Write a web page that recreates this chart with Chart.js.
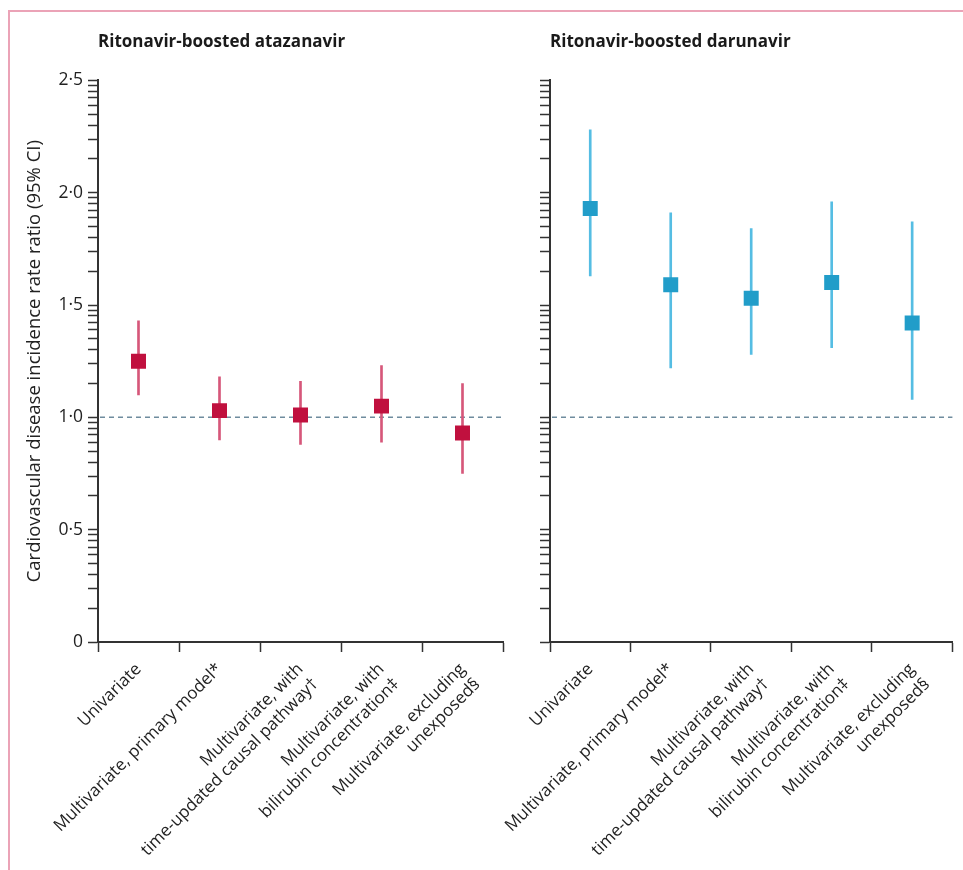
<!DOCTYPE html>
<html>
<head>
<meta charset="utf-8">
<script src="https://cdn.jsdelivr.net/npm/chart.js@4"></script>
<style>
  body { margin: 0; background: #fff; }
  #wrap { position: relative; width: 963px; height: 870px; overflow: hidden; }
  #frame { position: absolute; left: 8px; top: 10px; right: -4px; bottom: -4px;
           border-left: 2px solid #eba3b7; border-top: 2px solid #eba3b7; }
  canvas { position: absolute; top: 0; }
</style>
</head>
<body>
<div id="wrap">
  <div id="frame"></div>
  <canvas id="leftChart" width="515" height="870" style="left:0"></canvas>
  <canvas id="rightChart" width="483" height="870" style="left:480px"></canvas>
</div>
<script>
// categories shared by both panels
const categories = [
    'Univariate',
    ['Multivariate, primary model*'],
    ['Multivariate, with', 'time-updated causal pathway†'],
    ['Multivariate, with', 'bilirubin concentration‡'],
    ['Multivariate, excluding', 'unexposed§']
];

// ritonavir-boosted atazanavir
const ataEstimate = [1.25, 1.03, 1.01, 1.05, 0.93];
const ataLow = [1.10, 0.90, 0.88, 0.89, 0.75];
const ataHigh = [1.43, 1.18, 1.16, 1.23, 1.15];

// ritonavir-boosted darunavir
const daruEstimate = [1.93, 1.59, 1.53, 1.60, 1.42];
const daruLow = [1.63, 1.22, 1.28, 1.31, 1.08];
const daruHigh = [2.28, 1.91, 1.84, 1.96, 1.87];

// y axis
const majorTicks = [0, 0.5, 1.0, 1.5, 2.0, 2.5];
const majorLabels = ['0', '0·5', '1·0', '1·5', '2·0', '2·5'];
// minor tick spacing inside each 0.5 step (log-style ruler)
const minorFractions = [0.301, 0.477, 0.602, 0.699, 0.778, 0.845, 0.903, 0.954];
const referenceValue = 1.0;

const FONT = "'Open Sans', sans-serif";
Chart.defaults.font.family = FONT;
Chart.defaults.color = '#222';

const refLine = {
    id: 'refLine',
    beforeDatasetsDraw(chart) {
        const { ctx, chartArea, scales } = chart;
        const y = scales.y.getPixelForValue(referenceValue);
        ctx.save();
        ctx.strokeStyle = '#6f8c9e';
        ctx.lineWidth = 1.5;
        ctx.setLineDash([5, 4]);
        ctx.beginPath();
        ctx.moveTo(chartArea.left + 2, y);
        ctx.lineTo(chartArea.right, y);
        ctx.stroke();
        ctx.restore();
    }
};

function makeChart(id, cfg) {
    const tickValues = [];
    majorTicks.forEach((m, i) => {
        tickValues.push(m);
        if (i < majorTicks.length - 1) minorFractions.forEach(f => tickValues.push(m + 0.5 * f));
    });

    return new Chart(document.getElementById(id), {
        type: 'bar',
        data: {
            labels: categories,
            datasets: [{
                type: 'line',
                data: cfg.estimate,
                showLine: false,
                pointStyle: 'rect',
                pointRadius: 10.6,
                pointBackgroundColor: cfg.square,
                pointBorderWidth: 0,
                order: 0
            }, {
                type: 'bar',
                data: cfg.low.map((l, i) => [l, cfg.high[i]]),
                backgroundColor: cfg.line,
                barThickness: 2,
                order: 1
            }]
        },
        options: {
            responsive: false,
            animation: false,
            devicePixelRatio: 1,
            layout: { padding: { left: 0, right: cfg.padRight, top: 0, bottom: 0 } },
            plugins: {
                legend: { display: false },
                tooltip: { enabled: false },
                title: {
                    display: true,
                    text: cfg.title,
                    align: 'start',
                    fullSize: false,
                    color: '#1a1a1a',
                    font: { size: 17, weight: 'bold', lineHeight: 1.2 },
                    padding: { top: 32, bottom: 28 }
                }
            },
            scales: {
                x: {
                    type: 'category',
                    offset: true,
                    afterFit: s => { s.height = 228; },
                    grid: { offset: true, drawOnChartArea: false, drawTicks: true, tickLength: 10, tickWidth: 1.5, tickColor: '#333' },
                    border: { display: true, color: '#333', width: 2 },
                    ticks: { autoSkip: false, minRotation: 45, maxRotation: 45, padding: 7,
                             color: '#222', font: { size: 17, lineHeight: 1.25 } }
                },
                y: {
                    min: 0,
                    max: 2.5,
                    afterFit: s => { s.width = cfg.yWidth; },
                    afterBuildTicks: s => { s.ticks = tickValues.map(v => ({ value: v })); },
                    grid: { drawOnChartArea: false, drawTicks: true, tickLength: 10, tickWidth: 1.5, tickColor: '#333' },
                    border: { display: true, color: '#333', width: 2 },
                    ticks: {
                        autoSkip: false,
                        padding: 5,
                        color: '#222',
                        font: { size: 17.5 },
                        callback: v => {
                            if (!cfg.showLabels) return '';
                            const i = majorTicks.findIndex(m => Math.abs(m - v) < 1e-6);
                            return i >= 0 ? majorLabels[i] : '';
                        }
                    },
                    title: {
                        display: cfg.showLabels,
                        text: 'Cardiovascular disease incidence rate ratio (95% CI)',
                        color: '#222',
                        font: { size: 18.5, lineHeight: 1.2 },
                        padding: { top: 24, bottom: 0 }
                    }
                }
            }
        },
        plugins: [refLine]
    });
}

makeChart('leftChart', {
    title: 'Ritonavir-boosted atazanavir',
    estimate: ataEstimate, low: ataLow, high: ataHigh,
    square: '#c0103e', line: '#d6577a',
    yWidth: 98, padRight: 12, showLabels: true
});

makeChart('rightChart', {
    title: 'Ritonavir-boosted darunavir',
    estimate: daruEstimate, low: daruLow, high: daruHigh,
    square: '#219dc9', line: '#55bde3',
    yWidth: 70, padRight: 6, showLabels: false
});
</script>
</body>
</html>
